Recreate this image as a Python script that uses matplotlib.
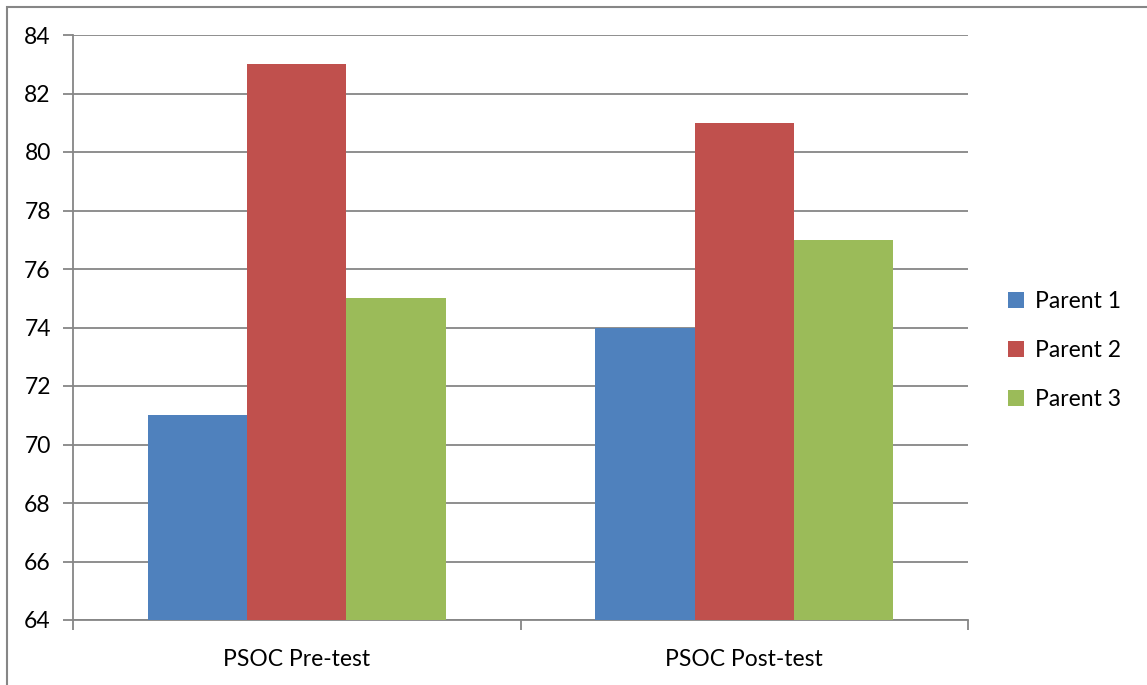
import matplotlib.pyplot as plt
import numpy as np
from matplotlib.patches import Rectangle

categories = ["PSOC Pre-test", "PSOC Post-test"]
series_names = ["Parent 1", "Parent 2", "Parent 3"]
parent1 = [71, 74]
parent2 = [83, 81]
parent3 = [75, 77]
colors = ["#4F81BD", "#C0504D", "#9BBB59"]

plt.rcParams["font.family"] = ["Lato", "DejaVu Sans"]
W, H = 1147, 685
fig = plt.figure(figsize=(W / 100, H / 100), dpi=100)

# outer chart border (runs off the right/bottom of the image)
fig.patches.append(Rectangle((7 / W, -0.1), 1.2, 1 - 7 / H + 0.1, transform=fig.transFigure,
                             fill=False, edgecolor="#868686", linewidth=1.5))

ax = fig.add_axes([73 / W, 1 - 620 / H, (968 - 73) / W, (620 - 35) / H])
gray = "#868686"
fs = 16.5

x = np.arange(len(categories))
w = 0.222
for i, (vals, name) in enumerate(zip([parent1, parent2, parent3], series_names)):
    ax.bar(x + (i - 1) * w, np.array(vals) - 64, bottom=64, width=w,
           color=colors[i], label=name, zorder=3)

ax.set_ylim(64, 84)
ax.set_xlim(-0.5, 1.5)
ax.set_yticks(range(64, 85, 2))
ax.yaxis.grid(True, color=gray, linewidth=1.3, zorder=0)

# category boundary ticks on x axis
ax.set_xticks([-0.5, 0.5, 1.5])
ax.set_xticklabels([])
ax.set_xticks(x, minor=True)
ax.set_xticklabels(categories, minor=True)
ax.tick_params(axis="x", which="minor", length=0, pad=21, labelsize=fs)
ax.tick_params(axis="x", which="major", length=7, width=1.3, color=gray, direction="out")
ax.tick_params(axis="y", length=7, width=1.3, color=gray, direction="out", labelsize=fs, pad=9)

for s in ["top", "right"]:
    ax.spines[s].set_visible(False)
for s in ["left", "bottom"]:
    ax.spines[s].set_color(gray)
    ax.spines[s].set_linewidth(1.3)

ax.legend(loc="center left", bbox_to_anchor=(1.022, 0.461), frameon=False, fontsize=fs,
          handlelength=0.7, handleheight=0.7, handletextpad=0.45, labelspacing=1.22)

fig.savefig("out.png", dpi=100)
